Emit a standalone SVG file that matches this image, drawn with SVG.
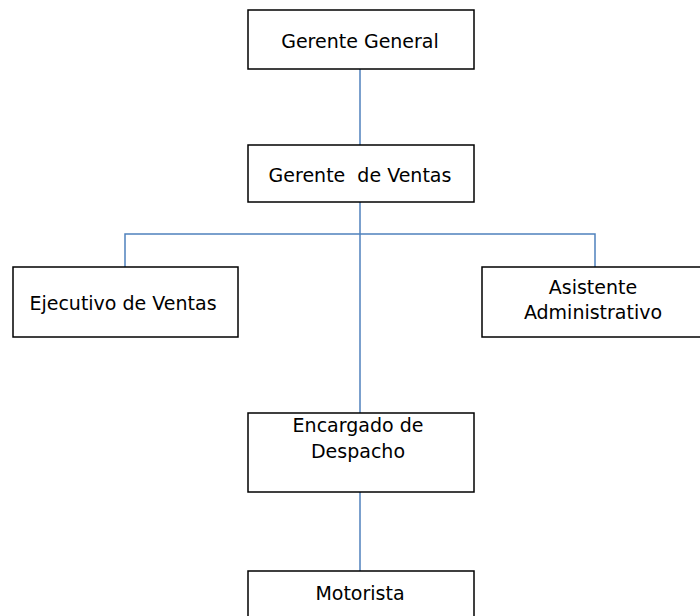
<svg xmlns="http://www.w3.org/2000/svg" width="700" height="616" viewBox="0 0 700 616">
<style>
.box{fill:#fff;stroke:#000;stroke-width:1.5}
.t{font-family:"DejaVu Sans","Liberation Sans",sans-serif;font-size:19px;fill:#000;text-anchor:middle;white-space:pre}
.c{fill:none;stroke:#4F81BD;stroke-width:1.5}
</style>
<rect width="700" height="616" fill="#fff"/>
<g id="connectors">
<line class="c" x1="360" y1="69" x2="360" y2="145"/>
<line class="c" x1="360" y1="202" x2="360" y2="413"/>
<polyline class="c" points="125,267 125,234 595,234 595,267"/>
<line class="c" x1="360" y1="492" x2="360" y2="571"/>
</g>
<g id="gerente-general">
<rect class="box" x="248" y="10" width="226" height="59"/>
<text class="t" x="360" y="48">Gerente General</text>
</g>
<g id="gerente-ventas">
<rect class="box" x="248" y="145" width="226" height="57"/>
<text class="t" x="360" y="182" xml:space="preserve">Gerente  de Ventas</text>
</g>
<g id="ejecutivo-ventas">
<rect class="box" x="13" y="267" width="225" height="70"/>
<text class="t" x="123" y="310">Ejecutivo de Ventas</text>
</g>
<g id="asistente-administrativo">
<rect class="box" x="482" y="267" width="222" height="70"/>
<text class="t" x="593" y="294">Asistente</text>
<text class="t" x="593" y="319">Administrativo</text>
</g>
<g id="encargado-despacho">
<rect class="box" x="248" y="413" width="226" height="79"/>
<text class="t" x="358" y="432">Encargado de</text>
<text class="t" x="358" y="458">Despacho</text>
</g>
<g id="motorista">
<rect class="box" x="248" y="571" width="226" height="60"/>
<text class="t" x="360" y="600">Motorista</text>
</g>
</svg>
